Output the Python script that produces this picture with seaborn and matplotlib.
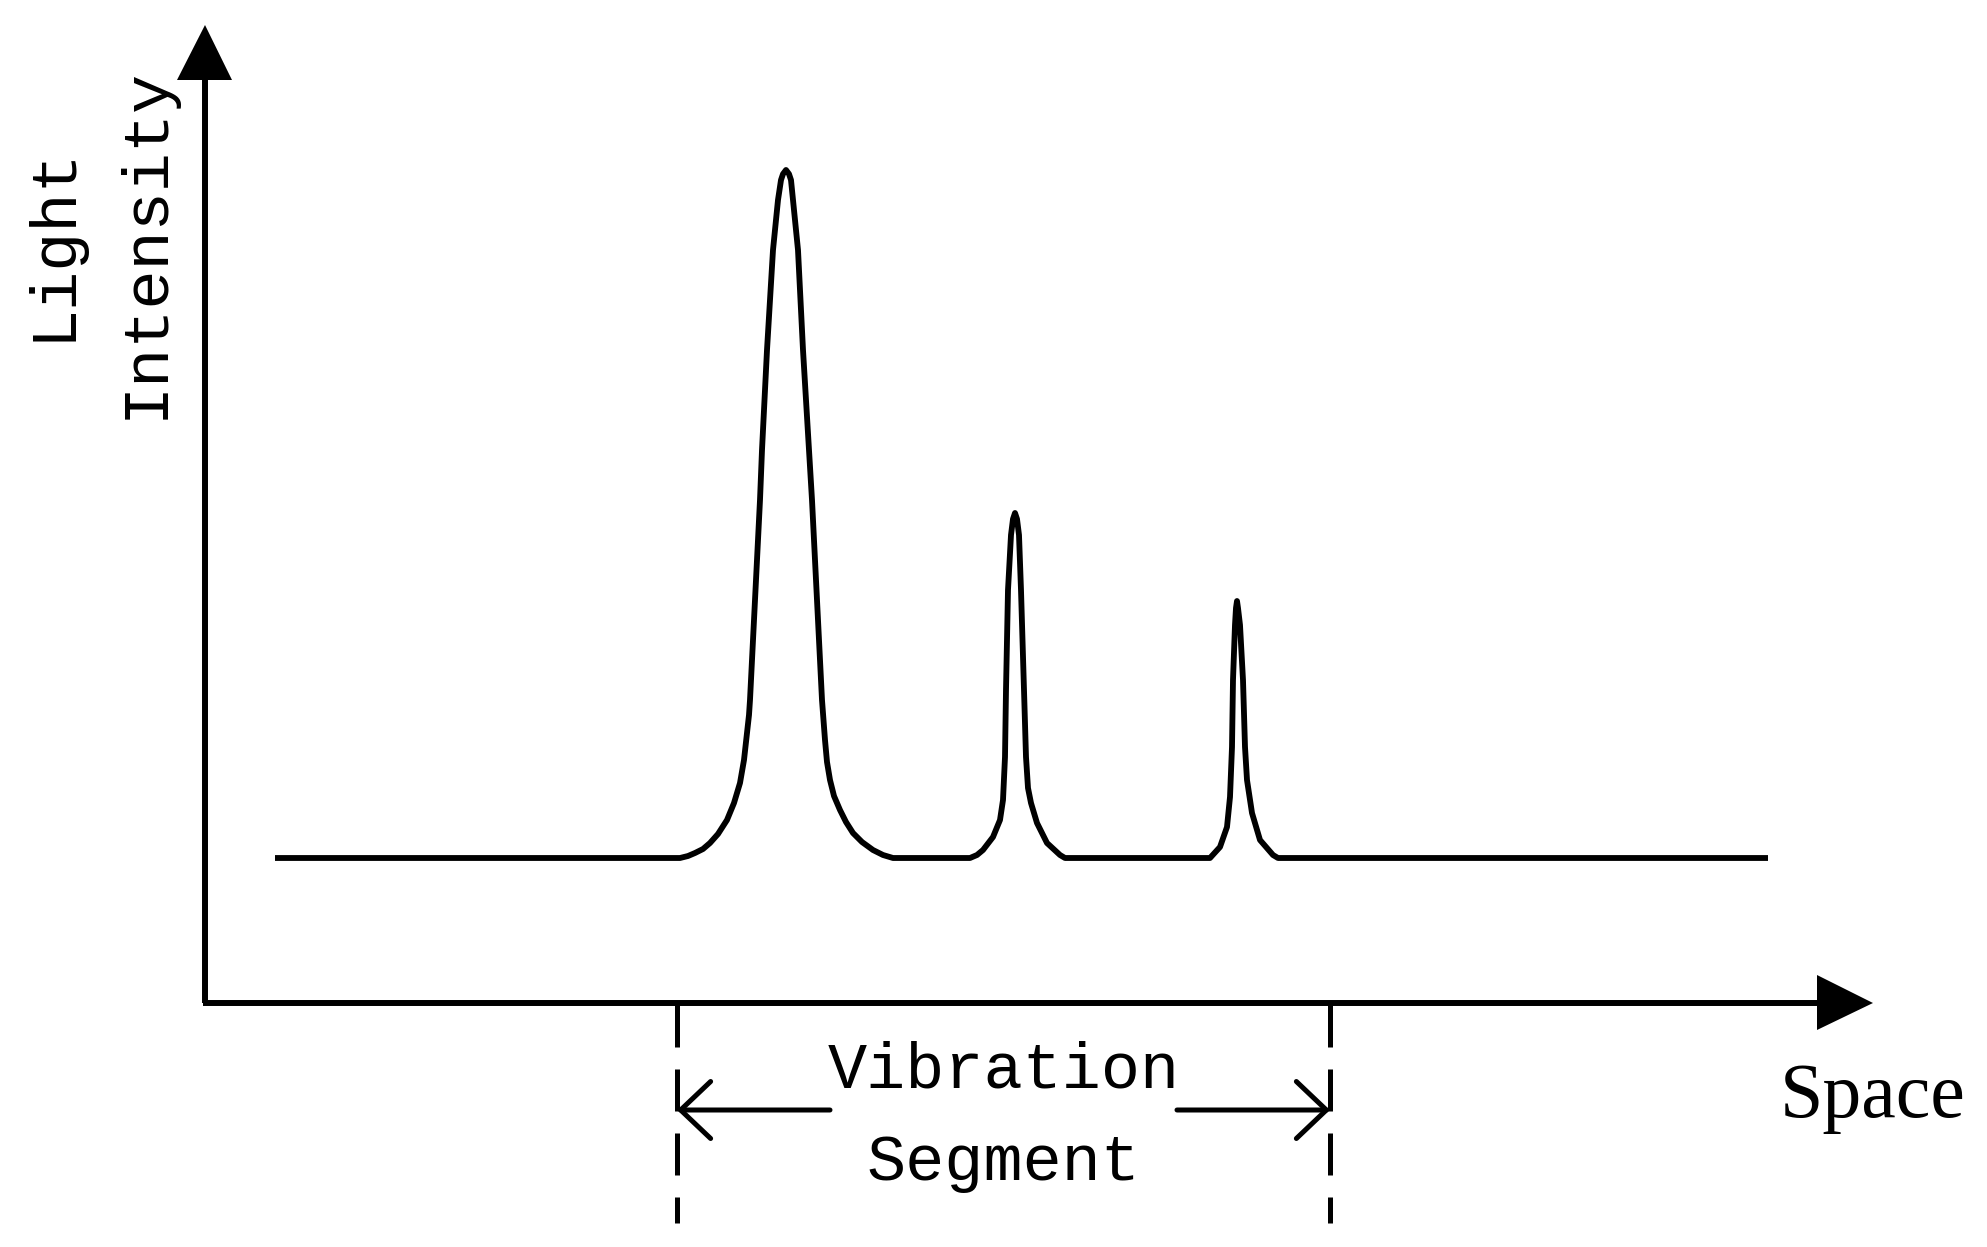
import matplotlib
matplotlib.use("Agg")
import matplotlib.pyplot as plt
from matplotlib.patches import Polygon
import seaborn as sns
import pandas as pd

# ---- data (space position, light intensity; arbitrary units) ----
space = [70, 475, 483, 490, 498, 505, 513, 522, 529, 535, 539, 542, 544, 545, 550, 555, 557,
         562, 568, 573, 576, 578, 581, 584, 586, 588, 593, 598, 604, 607, 612, 617, 620, 622,
         625, 629, 635, 641, 648, 657, 668, 678, 688,
         765, 772, 778, 788, 795, 798, 800, 801, 803, 806, 808, 810, 812, 814, 816, 819, 821,
         823, 826, 832, 842, 855, 860,
         1005, 1015, 1022, 1025, 1027, 1028, 1030, 1031, 1032, 1033, 1035, 1038, 1040, 1042,
         1047, 1055, 1068, 1073, 1563]
intensity = [145, 145, 147, 150, 154, 160, 169, 183, 200, 220, 243, 270, 288, 303, 403, 503, 553,
             653, 753, 803, 823, 829, 833, 829, 823, 803, 753, 653, 553, 503, 403, 303, 263, 241,
             223, 207, 193, 181, 170, 161, 153, 148, 145,
             145, 148, 153, 166, 183, 203, 246, 313, 413, 468, 484, 490, 484, 468, 413, 313, 246,
             215, 200, 180, 160, 148, 145,
             145, 156, 176, 206, 256, 323, 378, 395, 402, 395, 378, 323, 256, 223,
             190, 163, 148, 145, 145]
segment_bounds = [472, 1125]

y_label_lines = ["Light", "Intensity"]
x_label = "Space"
segment_label = ["Vibration", "Segment"]

df = pd.DataFrame({"space": space, "intensity": intensity})

sns.set_style("white")
fig = plt.figure(figsize=(19.87, 12.47), dpi=100)
ax = fig.add_axes([0, 0, 1, 1])
ax.set_xlim(-205, 1782)
ax.set_ylim(-244, 1003)
ax.axis("off")

sns.lineplot(data=df, x="space", y="intensity", ax=ax, color="black", lw=4.2,
             estimator=None, sort=False, solid_joinstyle="round", solid_capstyle="butt")

# axes with arrowheads
axis_lw = 4.3
ax.plot([0, 0], [0, 925], color="black", lw=axis_lw, solid_capstyle="butt")
ax.add_patch(Polygon([(-28, 923), (27, 923), (0, 978)], closed=True, color="black", lw=0))
ax.plot([-2, 1614], [0, 0], color="black", lw=axis_lw, solid_capstyle="butt")
ax.add_patch(Polygon([(1612, 28), (1612, -27), (1668, 0)], closed=True, color="black", lw=0))

# dashed segment bounds
for xb in segment_bounds:
    ax.plot([xb, xb], [-2, -220], color="black", lw=3.6, linestyle=(0, (8.4, 4.4)),
            dash_capstyle="butt")

# double arrow pieces
arr_y = -107
ax.annotate("", xy=(segment_bounds[0], arr_y), xytext=(625, arr_y),
            arrowprops=dict(arrowstyle="->, head_length=1.0, head_width=0.95",
                            mutation_scale=21.6, lw=3.6, color="black",
                            shrinkA=0, shrinkB=0))
ax.annotate("", xy=(segment_bounds[1], arr_y), xytext=(972, arr_y),
            arrowprops=dict(arrowstyle="->, head_length=1.0, head_width=0.95",
                            mutation_scale=21.6, lw=3.6, color="black",
                            shrinkA=0, shrinkB=0))

mono = ["Liberation Mono", "DejaVu Sans Mono"]
serif = ["Liberation Serif", "DejaVu Serif"]
fs = 47
mid = (segment_bounds[0] + segment_bounds[1]) / 2
ax.text(mid, -85, segment_label[0], family=mono, fontsize=fs, ha="center", va="baseline",
        color="black")
ax.text(mid, -177, segment_label[1], family=mono, fontsize=fs, ha="center", va="baseline",
        color="black")

ax.text(-135, 760, y_label_lines[0], family=mono, fontsize=fs, rotation=90,
        rotation_mode="anchor", ha="center", va="baseline", color="black")
ax.text(-42, 760, y_label_lines[1], family=mono, fontsize=fs, rotation=90,
        rotation_mode="anchor", ha="center", va="baseline", color="black")

ax.text(1668, -114, x_label, family=serif, fontsize=56, ha="center", va="baseline",
        color="black")

fig.savefig("out.png", dpi=100, facecolor="white")
